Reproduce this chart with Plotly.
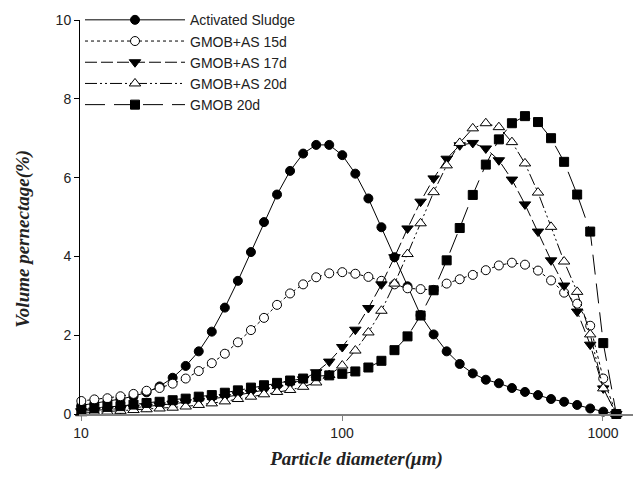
import plotly.graph_objects as go

# Particle size classes (um)
diameter = [10.024, 11.247, 12.619, 14.159, 15.887, 17.825, 20.000, 22.440, 25.179, 28.251,
            31.698, 35.566, 39.905, 44.774, 50.238, 56.368, 63.246, 70.963, 79.621, 89.337,
            100.237, 112.468, 126.191, 141.589, 158.866, 178.250, 200.000, 224.404, 251.785, 282.508,
            316.979, 355.656, 399.052, 447.744, 502.377, 563.677, 632.456, 709.627, 796.214, 893.367,
            1002.374, 1124.683]

activated_sludge = [0.22, 0.27, 0.32, 0.38, 0.45, 0.55, 0.70, 0.92, 1.22, 1.59,
                    2.09, 2.70, 3.38, 4.11, 4.87, 5.57, 6.17, 6.61, 6.83, 6.83,
                    6.57, 6.10, 5.47, 4.74, 3.98, 3.24, 2.51, 2.02, 1.59, 1.27,
                    1.03, 0.87, 0.78, 0.66, 0.56, 0.48, 0.38, 0.31, 0.23, 0.14,
                    0.06, 0.0]

gmob_as_15d = [0.33, 0.37, 0.40, 0.45, 0.51, 0.59, 0.66, 0.77, 0.90, 1.09,
               1.29, 1.53, 1.82, 2.13, 2.44, 2.77, 3.06, 3.29, 3.47, 3.57,
               3.60, 3.56, 3.48, 3.38, 3.29, 3.19, 3.17, 3.15, 3.31, 3.42,
               3.53, 3.65, 3.77, 3.84, 3.79, 3.64, 3.39, 3.08, 2.80, 2.24,
               0.90, 0.0]

gmob_as_17d = [0.07, 0.09, 0.11, 0.13, 0.16, 0.19, 0.22, 0.26, 0.30, 0.34,
               0.38, 0.43, 0.48, 0.54, 0.60, 0.67, 0.76, 0.88, 1.06, 1.33,
               1.70, 2.14, 2.69, 3.29, 3.98, 4.71, 5.39, 5.98, 6.48, 6.82,
               6.88, 6.74, 6.44, 5.95, 5.32, 4.63, 3.90, 3.26, 2.60, 1.76,
               0.65, 0.0]

gmob_as_20d = [0.02, 0.04, 0.06, 0.08, 0.10, 0.12, 0.14, 0.16, 0.19, 0.23,
               0.27, 0.32, 0.38, 0.44, 0.50, 0.56, 0.61, 0.69, 0.80, 0.99,
               1.23, 1.61, 2.07, 2.62, 3.31, 4.06, 4.84, 5.63, 6.31, 6.88,
               7.25, 7.38, 7.28, 6.90, 6.36, 5.62, 4.75, 3.87, 3.10, 2.02,
               0.65, 0.0]

gmob_20d = [0.10, 0.14, 0.18, 0.20, 0.24, 0.28, 0.31, 0.35, 0.39, 0.44,
            0.48, 0.54, 0.60, 0.67, 0.73, 0.79, 0.85, 0.90, 0.96, 0.98,
            1.02, 1.08, 1.18, 1.35, 1.62, 1.97, 2.50, 3.14, 3.90, 4.72,
            5.56, 6.33, 6.97, 7.38, 7.56, 7.41, 7.00, 6.40, 5.57, 4.63,
            1.80, 0.0]

series_names = ["Activated Sludge", "GMOB+AS 15d", "GMOB+AS 17d", "GMOB+AS 20d", "GMOB 20d"]
x_tick_vals = [10, 100, 1000]
x_tick_text = ["10", "100", "1000"]
y_tick_vals = [0, 2, 4, 6, 8, 10]
x_title = "Particle diameter(\u03bcm)"
y_title = "Volume pernectage(%)"

styles = [
    dict(dash="solid", symbol="circle", fill="black", size=9),
    dict(dash="dot", symbol="circle", fill="white", size=9),
    dict(dash="12px,4px", symbol="triangle-down", fill="black", size=10),
    dict(dash="12px,3px,2px,3px,2px,3px", symbol="triangle-up", fill="white", size=10),
    dict(dash="20px,9px", symbol="square", fill="black", size=9),
]
series = [activated_sludge, gmob_as_15d, gmob_as_17d, gmob_as_20d, gmob_20d]

fig = go.Figure()
for name, ys, st in zip(series_names, series, styles):
    fig.add_trace(go.Scatter(
        x=diameter, y=ys, name=name, mode="lines+markers",
        line=dict(color="black", width=1, dash=st["dash"]),
        marker=dict(symbol=st["symbol"], size=st["size"], color=st["fill"],
                    line=dict(color="black", width=1)),
        cliponaxis=False,
    ))

title_font = dict(family="Liberation Serif, Times New Roman", size=19,
                  weight="bold", style="italic", color="#222")

fig.update_layout(
    width=637, height=477,
    margin=dict(l=80, r=4, t=17, b=63),
    plot_bgcolor="white", paper_bgcolor="white",
    font=dict(family="Liberation Sans, Arial", size=14, color="#222"),
    showlegend=True,
    legend=dict(x=0.0, y=1.04, xanchor="left", yanchor="top",
                bgcolor="rgba(0,0,0,0)", borderwidth=0,
                itemwidth=100, font=dict(size=14, family="Liberation Sans, Arial"),
                tracegroupgap=0),
    annotations=[dict(text=y_title, textangle=-90, xref="paper", yref="paper",
                      x=-0.103, y=0.445, xanchor="center", yanchor="middle",
                      showarrow=False, font=title_font)],
)
fig.update_xaxes(
    type="log", range=[0.996, 3.115],
    tickvals=x_tick_vals, ticktext=x_tick_text,
    ticks="outside", ticklen=5, tickcolor="#808080", tickwidth=1,
    showline=True, linecolor="#808080", linewidth=1.5,
    showgrid=False, zeroline=False,
    title=dict(text=x_title, font=title_font, standoff=12),
)
fig.update_yaxes(
    range=[0, 10], tickvals=y_tick_vals,
    ticks="outside", ticklen=5, tickcolor="black", tickwidth=1,
    showline=True, linecolor="black", linewidth=1,
    showgrid=False, zeroline=False,
)

fig.write_html("out.html")
